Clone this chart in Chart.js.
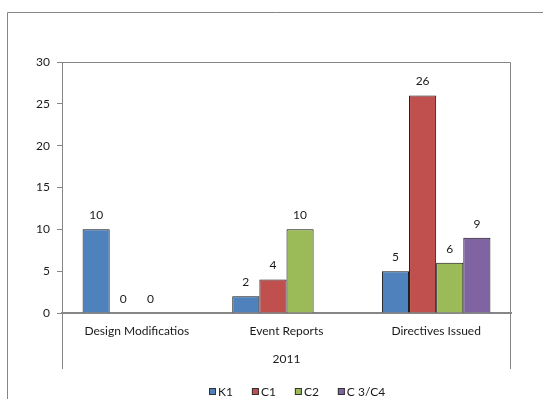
<!DOCTYPE html>
<html>
<head>
<meta charset="utf-8">
<script src="https://cdn.jsdelivr.net/npm/chart.js@4"></script>
<style>
  html, body { margin: 0; padding: 0; background: #fff; }
  #wrap { width: 543px; height: 399px; position: relative; }
</style>
</head>
<body>
<div id="wrap"><canvas id="c" width="543" height="399"></canvas></div>
<script>
// Categories and series
const categories = ['Design Modificatios', 'Event Reports', 'Directives Issued'];
const yearLabel = '2011';
const seriesNames = ['K1', 'C1', 'C2', 'C 3/C4'];
const k1Values = [10, 2, 5];
const c1Values = [0, 4, 26];
const c2Values = [0, 10, 6];
const c34Values = [null, null, 9];
const yTicks = [0, 5, 10, 15, 20, 25, 30];

const seriesColors = ['#4F81BD', '#C0504D', '#9BBB59', '#8064A2'];
const FONT = 'Lato, "Open Sans", sans-serif';
const TEXT = '#1a1a1a';
const LINE = '#868686';

const allValues = [k1Values, c1Values, c2Values, c34Values];

// Value labels above every bar, frames and the legend row
const decorations = {
  id: 'decorations',
  beforeDraw(chart) {
    const ctx = chart.ctx;
    ctx.save();
    ctx.strokeStyle = LINE;
    ctx.lineWidth = 1;
    // outer frame
    ctx.beginPath();
    ctx.moveTo(7.5, chart.height + 5);
    ctx.lineTo(7.5, 12.5);
    ctx.lineTo(chart.width + 5, 12.5);
    ctx.stroke();
    ctx.restore();
  },
  afterDraw(chart) {
    const ctx = chart.ctx;
    const a = chart.chartArea;
    const xs = chart.scales.x;
    ctx.save();
    // plot area frame (top and right)
    ctx.strokeStyle = LINE;
    ctx.lineWidth = 1;
    ctx.beginPath();
    ctx.moveTo(Math.round(a.left) + 0.5, Math.round(a.top) + 0.5);
    ctx.lineTo(Math.round(a.right) - 0.5, Math.round(a.top) + 0.5);
    ctx.lineTo(Math.round(a.right) - 0.5, Math.round(a.bottom));
    ctx.stroke();
    // multi-level category axis outer dividers
    ctx.beginPath();
    ctx.moveTo(Math.round(a.left) + 0.5, a.bottom);
    ctx.lineTo(Math.round(a.left) + 0.5, xs.bottom);
    ctx.moveTo(Math.round(a.right) - 0.5, a.bottom);
    ctx.lineTo(Math.round(a.right) - 0.5, xs.bottom);
    ctx.stroke();

    // value labels
    ctx.fillStyle = TEXT;
    ctx.font = '12px ' + FONT;
    ctx.textAlign = 'center';
    ctx.textBaseline = 'middle';
    chart.data.datasets.forEach((ds, i) => {
      const meta = chart.getDatasetMeta(i);
      meta.data.forEach((bar, j) => {
        const v = ds.data[j];
        if (v === null || v === undefined) return;
        ctx.fillText(String(v), bar.x, bar.y - 14);
      });
    });

    // legend row
    const box = 7, gap = 2, spacing = 19;
    const widths = seriesNames.map(n => ctx.measureText(n).width);
    const total = widths.reduce((s, w) => s + box + gap + w, 0) + spacing * (seriesNames.length - 1);
    const cx = (a.left + a.right) / 2 + 11;
    let x = Math.round(cx - total / 2);
    const y = 392;
    ctx.textAlign = 'left';
    seriesNames.forEach((n, i) => {
      ctx.fillStyle = seriesColors[i];
      ctx.fillRect(x, y - 4, box, box);
      ctx.strokeStyle = '#333';
      ctx.strokeRect(x + 0.5, y - 3.5, box - 1, box - 1);
      ctx.fillStyle = TEXT;
      ctx.fillText(n, x + box + gap, y);
      x += box + gap + widths[i] + spacing;
    });
    ctx.restore();
  }
};

new Chart(document.getElementById('c'), {
  type: 'bar',
  data: {
    labels: categories,
    datasets: seriesNames.map((name, i) => ({
      label: name,
      data: allValues[i],
      backgroundColor: seriesColors[i],
      borderColor: '#111',
      borderWidth: 1,
      categoryPercentage: 0.725,
      barPercentage: 1.0
    }))
  },
  options: {
    responsive: false,
    animation: false,
    devicePixelRatio: 1,
    layout: { padding: { top: 62, right: 32, bottom: 30, left: 0 } },
    plugins: {
      legend: { display: false },
      tooltip: { enabled: false }
    },
    scales: {
      x: {
        grid: { display: true, drawOnChartArea: false, drawTicks: false },
        border: { color: LINE, width: 2 },
        ticks: { color: TEXT, font: { family: FONT, size: 12 }, padding: 11, maxRotation: 0 },
        title: { display: true, text: yearLabel, color: TEXT, font: { family: FONT, size: 12 }, padding: { top: 0, bottom: 3 } },
        afterFit(scale) { scale.height = 56; }
      },
      y: {
        min: 0,
        max: 30,
        afterBuildTicks(scale) { scale.ticks = yTicks.map(v => ({ value: v })); },
        grid: { display: true, drawOnChartArea: false, drawTicks: true, tickLength: 5, color: LINE },
        border: { color: LINE, width: 1 },
        ticks: { color: TEXT, font: { family: FONT, size: 12 }, padding: 7 },
        afterFit(scale) { scale.width = 62; }
      }
    }
  },
  plugins: [decorations]
});
</script>
</body>
</html>
